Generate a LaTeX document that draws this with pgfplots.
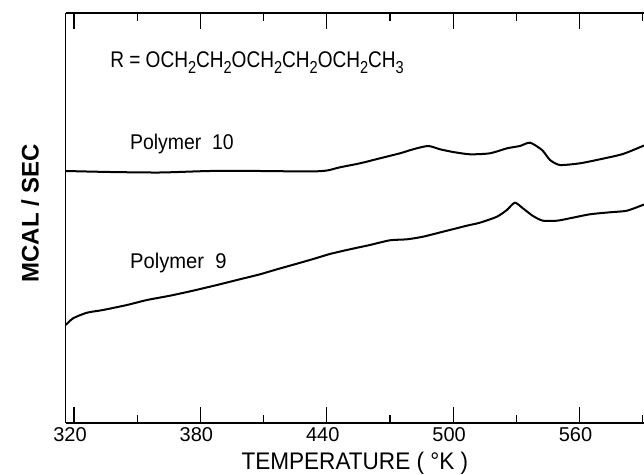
\documentclass[border=0pt]{standalone}
\usepackage{graphicx}
\usepackage{fontspec}
\setmainfont{Liberation Sans}
\usepackage{pgfplots}
\pgfplotsset{compat=1.18}
\newcommand\wt[2]{\scalebox{#1}[1]{#2}}
\newcommand\sub[1]{\raisebox{-4.2pt}{\fontsize{13}{14}\selectfont #1}}
\begin{document}
\begin{tikzpicture}
\useasboundingbox (-49.3pt,-39pt) rectangle (433.7pt,317.25pt);
\begin{axis}[
  at={(0,0)}, anchor=south west,
  width=433.7pt, height=307.5pt, scale only axis,
  xmin=316.1, xmax=590.6, ymin=0, ymax=410,
  separate axis lines,
  axis x line=box, axis y line=left,
  x axis line style={-, line width=0.9pt},
  y axis line style={-, line width=0.9pt},
  xtick={320,380,440,500,560},
  minor xtick={350,410,470,530,590},
  ytick=\empty,
  tick align=inside,
  major tick length=12pt, minor tick length=6pt,
  every tick/.style={black, line width=0.9pt},
  xtick pos=both,
  /pgf/number format/assume math mode=true,
  xticklabel style={font=\fontsize{15}{16}\selectfont, yshift=0pt, xshift=-3pt},
  clip mode=individual,
]
\addplot[black, line width=1.5pt, smooth, tension=0.4] coordinates {
(316.1,252) (337.1,251) (360.9,250.5) (384.6,252) (408.3,252) (432.1,251.5)
(440.1,252.5) (446.3,255.7) (455.8,259.7) (465.3,264.7) (474.8,269.7)
(481.0,273.7) (488.1,277) (493.8,273.7) (500.0,271) (508.0,268.7)
(517.5,269.7) (525.6,274.7) (531.7,277) (536.5,280.3) (542.2,273)
(546.0,263) (550.7,258) (560.2,259.7) (569.7,263.7) (580.6,269) (590.6,277.5)
};
\addplot[black, line width=1.5pt, smooth, tension=0.4] coordinates {
(316.1,98) (319.6,104.7) (326.2,110.3) (333.8,113) (345.2,118) (354.7,123)
(365.6,127.3) (376.5,132.3) (387.9,138) (397.4,143) (408.3,148.7)
(416.4,153.7) (432.0,163) (441.5,169) (451.0,173.7) (460.5,178)
(470.0,182.7) (478.1,183.7) (485.7,186.3) (495.2,191.3) (506.5,197.3)
(512.7,200.3) (520.8,206.3) (525.5,213) (529.3,220.3) (533.1,214.7)
(537.9,207) (542.6,202.3) (549.3,202.3) (555.4,204.7) (564.9,208.7)
(574.4,210.7) (582.5,212.3) (590.6,218.5)
};
\node[anchor=base west, inner sep=0pt, font=\fontsize{17}{18}\selectfont]
  at (axis description cs:0.0766,0.866)
  {\wt{0.84}{R = OCH\sub{2}CH\sub{2}OCH\sub{2}CH\sub{2}OCH\sub{2}CH\sub{3}}};
\node[anchor=base west, inner sep=0pt, font=\fontsize{16}{18}\selectfont]
  at (axis description cs:0.111,0.666) {\wt{0.91}{Polymer\ \ 10}};
\node[anchor=base west, inner sep=0pt, font=\fontsize{16}{18}\selectfont]
  at (axis description cs:0.111,0.377) {\wt{0.945}{Polymer\ \ 9}};
\node[inner sep=0pt, font=\fontsize{18}{20}\selectfont]
  at (axis description cs:0.5,-0.0976) {\wt{0.94}{TEMPERATURE ( °K )}};
\node[inner sep=0pt, rotate=90, font=\bfseries\fontsize{18}{20}\selectfont]
  at (axis description cs:-0.0617,0.512) {\wt{1.0}{MCAL / SEC}};
\end{axis}
\end{tikzpicture}
\end{document}
